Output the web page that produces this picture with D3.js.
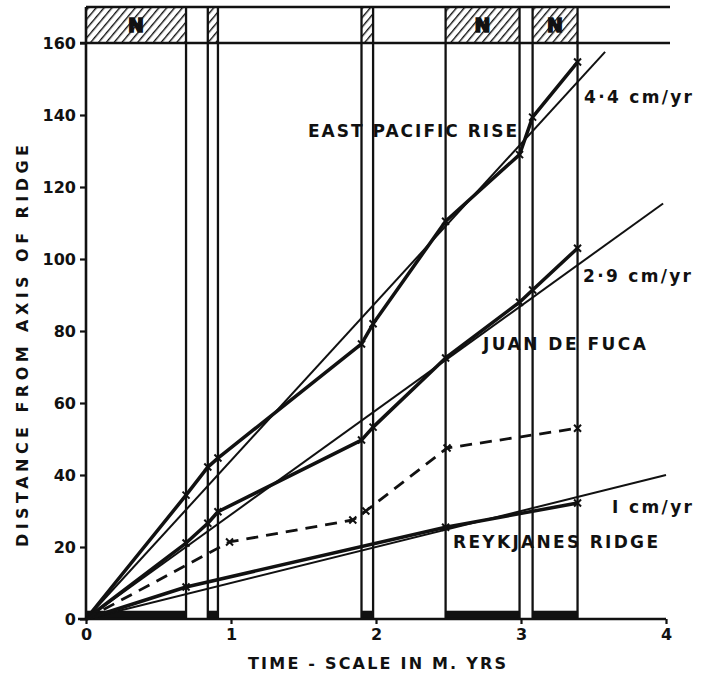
<!DOCTYPE html>
<html>
<head>
<meta charset="utf-8">
<script src="https://cdn.jsdelivr.net/npm/d3@7"></script>
<style>
  html, body { margin: 0; padding: 0; background: #fff; }
  svg { display: block; }
  text { font-family: "DejaVu Sans", "Liberation Sans", Arial, sans-serif; font-weight: bold; fill: #111; }
</style>
</head>
<body>
<svg id="chart" width="707" height="680"></svg>
<script>
// ---- data ----
const normalStarts = [0, 0.84, 1.90, 2.48, 3.08];
const normalEnds   = [0.69, 0.91, 1.98, 2.99, 3.39];
const boundaryTimes = [0.69, 0.84, 0.91, 1.90, 1.98, 2.48, 2.99, 3.08, 3.39];
const labelledEpochs = [0, 3, 4];           // epochs carrying an "N"

const eprTimes = [0, 0.69, 0.84, 0.91, 1.90, 1.98, 2.48, 2.99, 3.08, 3.39];
const eprDist  = [0, 34.4, 42.2, 44.7, 76.4, 82.0, 110.5, 129.0, 139.4, 154.7];
const jdfTimes = [0, 0.69, 0.84, 0.91, 1.90, 1.98, 2.48, 2.99, 3.08, 3.39];
const jdfDist  = [0, 21.1, 26.6, 29.8, 49.7, 53.3, 72.5, 88.0, 91.4, 103.0];
const reykTimes = [0, 0.69, 2.48, 3.39];
const reykDist  = [0, 8.9, 25.5, 32.2];
const dashTimes = [0, 0.99, 1.84, 1.93, 2.49, 3.39];
const dashDist  = [0, 21.4, 27.5, 30.0, 47.5, 53.0];

const rateNames  = ["4·4 cm/yr", "2·9 cm/yr", "I cm/yr"];
const rateValues = [4.4, 2.9, 1.0];          // cm/yr -> km per M.yr = 10*rate
const rateEndTimes = [3.58, 3.98, 4.0];

const xTicks = [0, 1, 2, 3, 4];
const yTicks = [0, 20, 40, 60, 80, 100, 120, 140, 160];
const bandTop = 170;

// ---- scales ----
const svg = d3.select("#chart");
const x = d3.scaleLinear().domain([0, 4]).range([86, 666]);
const y = d3.scaleLinear().domain([0, 170]).range([619, 7]);

const ink = "#111";
const FONT = "DejaVu Sans, Liberation Sans, Arial, sans-serif";

// hatch pattern
const defs = svg.append("defs");
const pat = defs.append("pattern").attr("id", "hatch").attr("patternUnits", "userSpaceOnUse")
  .attr("width", 6).attr("height", 6).attr("patternTransform", "rotate(40)");
pat.append("line").attr("x1", 0).attr("y1", 0).attr("x2", 0).attr("y2", 6)
  .attr("stroke", ink).attr("stroke-width", 2.8);

// hatched normal epochs in top band + black bars at bottom
normalStarts.forEach((s, i) => {
  svg.append("rect")
    .attr("x", x(s)).attr("y", y(bandTop))
    .attr("width", x(normalEnds[i]) - x(s)).attr("height", y(160) - y(bandTop))
    .attr("fill", "url(#hatch)");
  svg.append("rect")
    .attr("x", x(s)).attr("y", y(2.3))
    .attr("width", x(normalEnds[i]) - x(s)).attr("height", y(0) - y(2.3))
    .attr("fill", ink);
});

// N labels
labelledEpochs.forEach(i => {
  svg.append("text")
    .attr("x", (x(normalStarts[i]) + x(normalEnds[i])) / 2)
    .attr("y", (y(160) + y(bandTop)) / 2 + 7)
    .attr("text-anchor", "middle").attr("font-size", 19)
    .attr("stroke", ink).attr("stroke-width", 1.5)
    .text("N");
});

// band lines
[bandTop, 160].forEach(v => {
  svg.append("line").attr("x1", v === 160 ? 80 : x(0)).attr("x2", 670)
    .attr("y1", y(v)).attr("y2", y(v)).attr("stroke", ink).attr("stroke-width", 2.6);
});

// vertical epoch boundary lines
boundaryTimes.forEach(t => {
  svg.append("line").attr("x1", x(t)).attr("x2", x(t))
    .attr("y1", y(bandTop)).attr("y2", y(0))
    .attr("stroke", ink).attr("stroke-width", 2.3);
});

// axes
svg.append("line").attr("x1", x(0)).attr("x2", x(0)).attr("y1", y(bandTop)).attr("y2", y(0))
  .attr("stroke", ink).attr("stroke-width", 2.6);
svg.append("line").attr("x1", 78).attr("x2", x(4)).attr("y1", y(0)).attr("y2", y(0))
  .attr("stroke", ink).attr("stroke-width", 2.6);

const yAxis = d3.axisLeft(y).tickValues(yTicks).tickSize(6).tickPadding(4).tickFormat(d3.format("d"));
const gy = svg.append("g").attr("transform", `translate(${x(0)},0)`).call(yAxis);
gy.select(".domain").remove();
gy.selectAll(".tick line").attr("stroke", ink).attr("stroke-width", 2.2);
gy.selectAll(".tick text").attr("font-size", 16).attr("fill", ink)
  .attr("font-family", FONT).attr("font-weight", "bold");

const xAxis = d3.axisBottom(x).tickValues(xTicks).tickSize(5).tickPadding(5).tickFormat(d3.format("d"));
const gx = svg.append("g").attr("transform", `translate(0,${y(0)})`).call(xAxis);
gx.select(".domain").remove();
gx.selectAll(".tick line").attr("stroke", ink).attr("stroke-width", 2.2);
gx.selectAll(".tick text").attr("font-size", 16).attr("fill", ink)
  .attr("font-family", FONT).attr("font-weight", "bold");

// theoretical rate lines
rateValues.forEach((r, i) => {
  svg.append("line")
    .attr("x1", x(0)).attr("y1", y(0))
    .attr("x2", x(rateEndTimes[i])).attr("y2", y(r * 10 * rateEndTimes[i]))
    .attr("stroke", ink).attr("stroke-width", 2);
});

// observed series
const lineGen = d3.line().x(d => x(d[0])).y(d => y(d[1]));
function drawSeries(times, dists, dashed) {
  const pts = times.map((t, i) => [t, dists[i]]);
  svg.append("path").datum(pts).attr("d", lineGen)
    .attr("fill", "none").attr("stroke", ink)
    .attr("stroke-width", dashed ? 2.8 : 3.5)
    .attr("stroke-dasharray", dashed ? "12,8" : null)
    .attr("stroke-linejoin", "round");
  pts.slice(1).forEach(p => {
    const cx = x(p[0]), cy = y(p[1]), s = 3.5;
    svg.append("path")
      .attr("d", `M${cx - s},${cy - s}L${cx + s},${cy + s}M${cx - s},${cy + s}L${cx + s},${cy - s}`)
      .attr("stroke", ink).attr("stroke-width", 2);
  });
}
drawSeries(eprTimes, eprDist, false);
drawSeries(jdfTimes, jdfDist, false);
drawSeries(reykTimes, reykDist, false);
drawSeries(dashTimes, dashDist, true);

// labels
function label(txt, cx, cy, len, size) {
  svg.append("text").attr("x", cx).attr("y", cy).attr("font-size", size || 16)
    .attr("textLength", len).attr("lengthAdjust", "spacing")
    .text(txt);
}
label("EAST PACIFIC RISE", 308, 137, 209, 17);
label("JUAN DE FUCA", 483, 350, 163, 17);
label("REYKJANES RIDGE", 453, 548, 205, 17);
label(rateNames[0], 584, 103, 108, 17);
label(rateNames[1], 583, 282, 108, 17);
label(rateNames[2], 612, 513, 80, 17);

// axis titles
label("TIME - SCALE IN M. YRS", 248, 669, 258, 16);
svg.append("text")
  .attr("transform", "translate(28,346) rotate(-90)")
  .attr("text-anchor", "middle").attr("font-size", 16)
  .attr("textLength", 402).attr("lengthAdjust", "spacing")
  .text("DISTANCE FROM AXIS OF RIDGE");
</script>
</body>
</html>
